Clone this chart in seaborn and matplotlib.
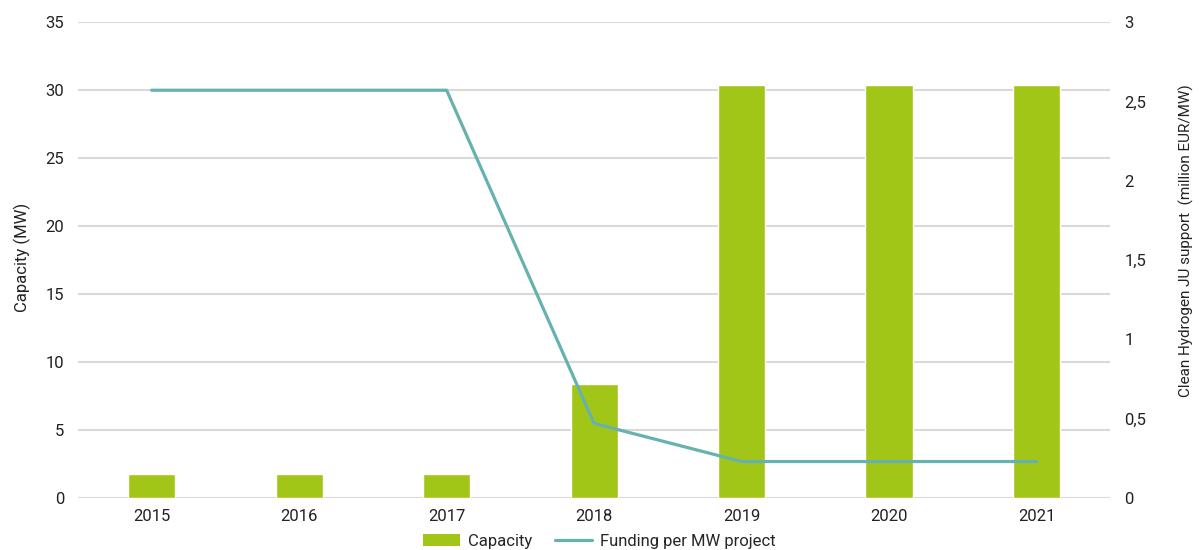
import pandas as pd
import matplotlib.pyplot as plt
import seaborn as sns
from matplotlib.patches import Patch
from matplotlib.lines import Line2D

years = [2015, 2016, 2017, 2018, 2019, 2020, 2021]
capacity_mw = [1.8, 1.8, 1.8, 8.4, 30.4, 30.4, 30.4]
funding_per_mw = [2.57, 2.57, 2.57, 0.47, 0.23, 0.23, 0.23]
left_ticks = [0, 5, 10, 15, 20, 25, 30, 35]
right_ticks = [0, 0.5, 1, 1.5, 2, 2.5, 3]
right_tick_labels = ['0', '0,5', '1', '1,5', '2', '2,5', '3']

bar_color = '#A2C617'
line_color = '#67B1B0'
grid_color = '#D9D9D9'
text_color = '#222222'

sns.set_style('white')
plt.rcParams['font.family'] = ['Roboto', 'DejaVu Sans']
plt.rcParams['font.size'] = 12

df = pd.DataFrame({'year': years, 'capacity': capacity_mw, 'funding': funding_per_mw})

fig = plt.figure(figsize=(11.99, 5.5), dpi=100)
ax = fig.add_axes([0.065, 0.0945, 0.861, 0.8655])

sns.barplot(data=df, x='year', y='capacity', color=bar_color, width=0.32,
            native_scale=True, saturation=1, ax=ax, zorder=2)
ax.set_xlim(2014.5, 2021.5)
ax.set_ylim(0, 35)
ax.set_yticks(left_ticks)
ax.set_xticks(years)
ax.yaxis.grid(True, color=grid_color, linewidth=1.5)
ax.set_axisbelow(True)
for s in ax.spines.values():
    s.set_visible(False)
ax.tick_params(axis='both', length=0, labelsize=12, colors=text_color, pad=10)
ax.tick_params(axis='x', pad=8)
ax.set_xlabel('')
ax.set_ylabel('Capacity (MW)', fontsize=12, color=text_color)
ax.yaxis.set_label_coords(-0.045, 0.505)

ax2 = ax.twinx()
sns.lineplot(data=df, x='year', y='funding', color=line_color, linewidth=2.3,
             ax=ax2, zorder=3)
ax2.set_ylim(0, 3)
ax2.set_yticks(right_ticks)
ax2.set_yticklabels(right_tick_labels)
ax2.grid(False)
for s in ax2.spines.values():
    s.set_visible(False)
ax2.tick_params(axis='y', length=0, labelsize=12, colors=text_color, pad=10)
ax2.set_ylabel('Clean Hydrogen JU support  (million EUR/MW)', fontsize=11,
               color=text_color)
ax2.yaxis.set_label_coords(1.066, 0.54)
ax2.set_xlim(2014.5, 2021.5)

handles = [Patch(facecolor=bar_color, edgecolor='none'),
           Line2D([0], [0], color=line_color, linewidth=2.3)]
fig.legend(handles, ['Capacity', 'Funding per MW project'], loc='lower center',
           bbox_to_anchor=(0.5, -0.025), ncol=2, frameon=False, fontsize=12,
           handlelength=2.2, handleheight=0.8, handletextpad=0.5,
           columnspacing=1.4)

fig.savefig('out.png', dpi=100)
